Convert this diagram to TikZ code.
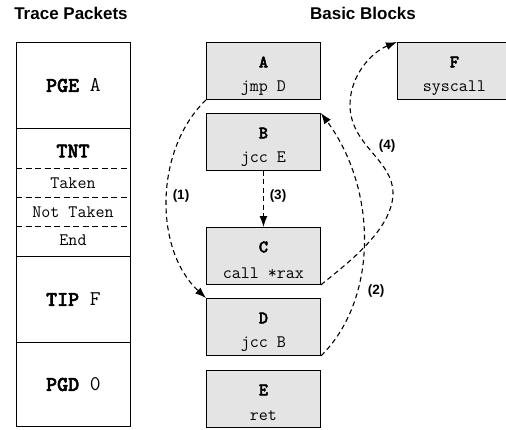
\documentclass[tikz,border=0pt]{standalone}
\usepackage{fontspec}
\setmainfont{Liberation Sans}
\newfontfamily\ttbf{lmmonolt10-bold.otf}[FakeBold=2.5]
\usetikzlibrary{arrows.meta}
\definecolor{blockgray}{RGB}{228,228,228}
\begin{document}
\begin{tikzpicture}[x=1pt,y=-1pt,
  title/.style={font=\fontsize{17}{20}\selectfont\bfseries, inner sep=0pt},
  blk/.style={draw, line width=0.9pt, fill=blockgray, minimum width=114pt, minimum height=57pt, inner sep=0pt, anchor=north west},
  pkt/.style={draw, line width=0.9pt, minimum width=114pt, inner sep=0pt, anchor=north west},
  letter/.style={font=\fontsize{17.5}{20}\ttbf, inner sep=0pt},
  code/.style={font=\fontsize{17.5}{20}\ttfamily, inner sep=0pt},
  big/.style={font=\fontsize{21}{24}\ttfamily, inner sep=0pt},
  sep/.style={line width=0.9pt, dash pattern=on 6pt off 3.5pt},
  conn/.style={line width=1.1pt, dash pattern=on 5pt off 3.5pt, -{Latex[length=11pt,width=8pt]}},
  lab/.style={font=\fontsize{13.5}{16}\selectfont\bfseries, inner sep=0pt}]
\useasboundingbox (0,0) rectangle (506,429);

% titles
\node[title] (t1) at (71,13) {Trace Packets};
\node[title] (t2) at (363,13) {Basic Blocks};

% trace packets column
\node[pkt, minimum height=86pt] (pge) at (16,42) {};
\node[pkt, minimum height=128pt] (tnt) at (16,128) {};
\node[pkt, minimum height=86pt] (tip) at (16,256) {};
\node[pkt, minimum height=84pt] (pgd) at (16,342) {};
\node[big] (pgeT) at (pge.center) {{\ttbf PGE} A};
\node[big] (tntT) at (73,151) {{\ttbf TNT}};
\node[code] (tk) at (73,183) {Taken};
\node[code] (ntk) at (73,212) {Not Taken};
\node[code] (end) at (73,240) {End};
\node[big] (tipT) at (tip.center) {{\ttbf TIP} F};
\node[big] (pgdT) at (pgd.center) {{\ttbf PGD} 0};
\coordinate (s1a) at (16,168); \coordinate (s1b) at (130,168);
\coordinate (s2a) at (16,197); \coordinate (s2b) at (130,197);
\coordinate (s3a) at (16,226); \coordinate (s3b) at (130,226);
\draw[sep] (s1a) -- (s1b);
\draw[sep] (s2a) -- (s2b);
\draw[sep] (s3a) -- (s3b);

% basic blocks
\node[blk] (A) at (206,42) {};
\node[letter] (Al) at ([yshift=-20pt]A.north) {A};
\node[code] (Ac) at ([yshift=-46pt]A.north) {jmp D};
\node[blk] (B) at (206,113) {};
\node[letter] (Bl) at ([yshift=-20pt]B.north) {B};
\node[code] (Bc) at ([yshift=-46pt]B.north) {jcc E};
\node[blk] (C) at (206,227) {};
\node[letter] (Cl) at ([yshift=-20pt]C.north) {C};
\node[code] (Cc) at ([yshift=-46pt]C.north) {call *rax};
\node[blk] (D) at (206,298) {};
\node[letter] (Dl) at ([yshift=-20pt]D.north) {D};
\node[code] (Dc) at ([yshift=-46pt]D.north) {jcc B};
\node[blk] (E) at (206,370) {};
\node[letter] (El) at ([yshift=-20pt]E.north) {E};
\node[code] (Ec) at ([yshift=-46pt]E.north) {ret};
\node[blk] (F) at (397,42) {};
\node[letter] (Fl) at ([yshift=-20pt]F.north) {F};
\node[code] (Fc) at ([yshift=-46pt]F.north) {syscall};

% connectors
\draw[conn] (A.south west) .. controls (154,150) and (154,250) .. (D.north west);
\draw[conn] (D.south east) .. controls (378,300) and (378,190) .. (B.north east);
\draw[conn] (B.south) -- (C.north);
\draw[conn] (C.south east) .. controls (345,265) and (393,230) .. (393,193)
  .. controls (393,160) and (350,145) .. (350,105)
  .. controls (350,75) and (372,52) .. (F.north west);

% labels
\node[lab] (l1) at (181,196) {(1)};
\node[lab] (l2) at (376,291) {(2)};
\node[lab] (l3) at (278,196) {(3)};
\node[lab] (l4) at (387,146) {(4)};
\end{tikzpicture}
\end{document}
